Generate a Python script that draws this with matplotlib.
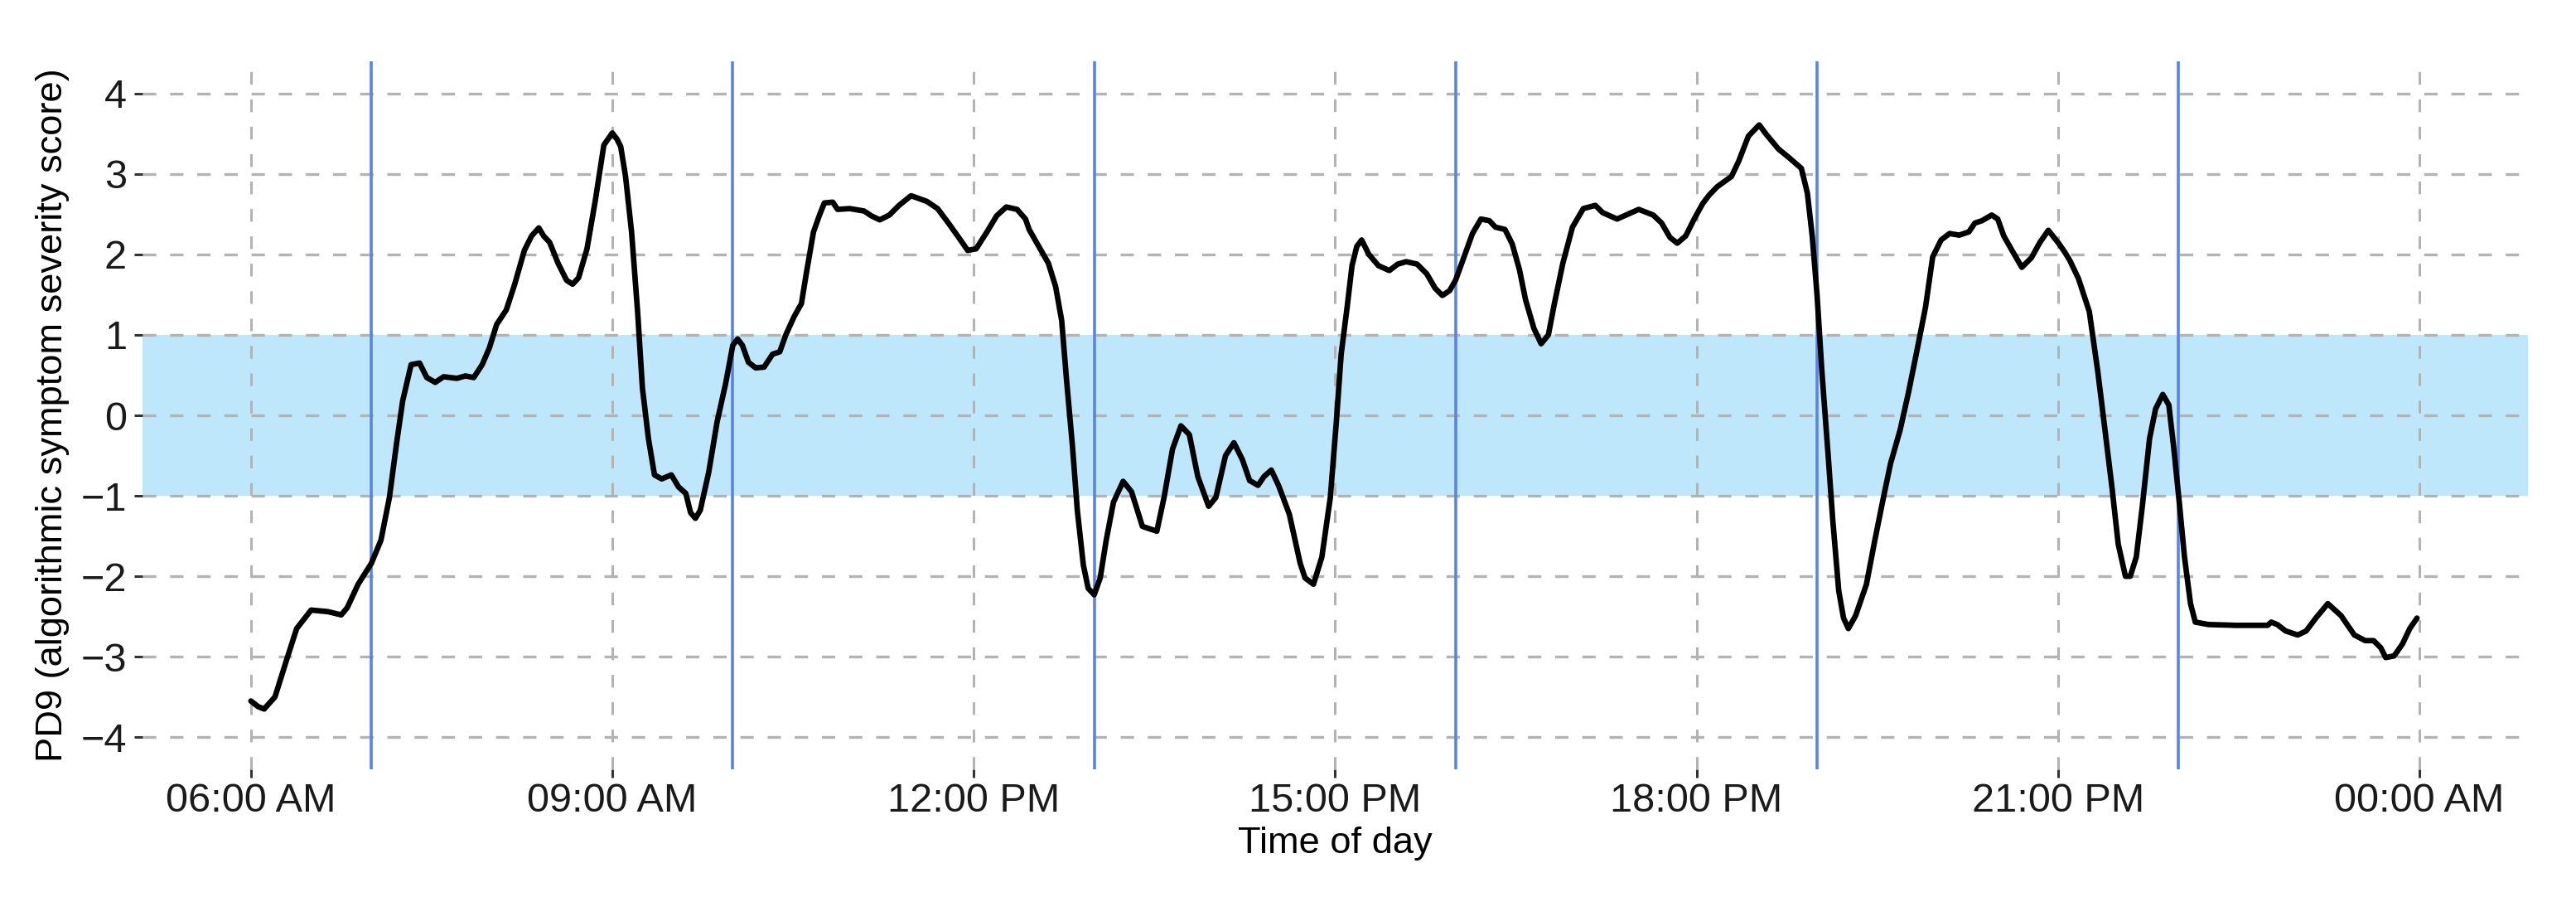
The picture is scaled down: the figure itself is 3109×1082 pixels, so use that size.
import matplotlib
matplotlib.use("Agg")
import matplotlib.pyplot as plt

plt.rcParams['font.family'] = ['Liberation Sans', 'DejaVu Sans']
plt.rcParams['lines.scale_dashes'] = False

# ---- data ----
hours = [6.00, 6.06, 6.11, 6.20, 6.29, 6.38, 6.50, 6.64, 6.75, 6.80, 6.89,
         7.00, 7.08, 7.15, 7.21, 7.26, 7.33, 7.40, 7.46, 7.53, 7.60, 7.71, 7.78, 7.85, 7.92, 7.98,
         8.04, 8.12, 8.19, 8.27, 8.33, 8.39, 8.43, 8.48, 8.55, 8.62, 8.67, 8.72, 8.79, 8.86, 8.93,
         9.00, 9.04, 9.07, 9.11, 9.16, 9.21, 9.25, 9.30, 9.35, 9.41, 9.49, 9.55, 9.61, 9.65, 9.69,
         9.73, 9.80, 9.87, 9.94,
         10.00, 10.04, 10.08, 10.13, 10.19, 10.26, 10.33, 10.39, 10.44, 10.51, 10.57, 10.61, 10.67,
         10.72, 10.76, 10.83, 10.87, 10.97,
         11.09, 11.15, 11.22, 11.30, 11.38, 11.48, 11.61, 11.70, 11.79, 11.89, 11.95,
         12.02, 12.11, 12.19, 12.27, 12.36, 12.43, 12.46, 12.54, 12.62, 12.68, 12.73, 12.77, 12.82,
         12.86, 12.91, 12.95,
         13.00, 13.05, 13.10, 13.16, 13.24, 13.31, 13.40, 13.52, 13.58, 13.65, 13.72, 13.79, 13.86, 13.95,
         14.01, 14.09, 14.16, 14.23, 14.29, 14.36, 14.41, 14.47, 14.53, 14.62, 14.71, 14.75, 14.82,
         14.89, 14.96,
         15.01, 15.05, 15.10, 15.14, 15.18, 15.22, 15.28, 15.36, 15.45, 15.52, 15.59, 15.68, 15.76,
         15.83, 15.89, 15.95,
         16.00, 16.07, 16.14, 16.21, 16.28, 16.33, 16.41, 16.47, 16.53, 16.58, 16.65, 16.71, 16.77,
         16.82, 16.89, 16.97,
         17.06, 17.16, 17.22, 17.34, 17.43, 17.52, 17.64, 17.71, 17.78, 17.84, 17.91, 17.98,
         18.05, 18.10, 18.17, 18.29, 18.35, 18.43, 18.52, 18.58, 18.68, 18.77, 18.87, 18.92, 18.96,
         19.00, 19.04, 19.09, 19.13, 19.18, 19.22, 19.26, 19.32, 19.41, 19.48, 19.55, 19.61, 19.69,
         19.76, 19.83, 19.90, 19.96,
         20.03, 20.10, 20.18, 20.26, 20.31, 20.37, 20.45, 20.50, 20.55, 20.63, 20.70, 20.78, 20.85, 20.92,
         21.01, 21.06, 21.10, 21.17, 21.26, 21.33, 21.39, 21.45, 21.50, 21.56, 21.60, 21.65, 21.70,
         21.76, 21.81, 21.87, 21.92, 21.96,
         22.01, 22.05, 22.10, 22.14, 22.25, 22.48, 22.74, 22.77, 22.82, 22.89, 22.99,
         23.06, 23.14, 23.24, 23.35, 23.46, 23.55, 23.62, 23.68, 23.72, 23.79, 23.86, 23.92, 23.98]

pd9 = [-3.55, -3.62, -3.65, -3.50, -3.07, -2.65, -2.42, -2.44, -2.48, -2.39, -2.10,
       -1.84, -1.55, -1.02, -0.34, 0.18, 0.63, 0.65, 0.47, 0.41, 0.48, 0.46, 0.49, 0.47, 0.63, 0.84,
       1.13, 1.31, 1.63, 2.05, 2.23, 2.33, 2.23, 2.15, 1.89, 1.68, 1.63, 1.71, 2.07, 2.68, 3.36,
       3.51, 3.43, 3.34, 2.97, 2.28, 1.29, 0.34, -0.29, -0.74, -0.79, -0.74, -0.89, -0.97, -1.21, -1.28,
       -1.18, -0.71, -0.08, 0.39,
       0.87, 0.95, 0.87, 0.66, 0.59, 0.60, 0.76, 0.79, 1.00, 1.23, 1.39, 1.76, 2.28,
       2.49, 2.64, 2.65, 2.56, 2.57,
       2.54, 2.48, 2.43, 2.49, 2.61, 2.73, 2.66, 2.57, 2.39, 2.18, 2.05,
       2.07, 2.28, 2.48, 2.59, 2.56, 2.44, 2.31, 2.10, 1.89, 1.60, 1.18, 0.45, -0.39,
       -1.18, -1.86, -2.15,
       -2.23, -2.02, -1.55, -1.08, -0.82, -0.95, -1.38, -1.44, -1.02, -0.42, -0.13, -0.24, -0.76, -1.13,
       -1.02, -0.50, -0.34, -0.55, -0.81, -0.87, -0.76, -0.68, -0.87, -1.23, -1.84, -2.02, -2.10,
       -1.76, -1.02,
       -0.08, 0.76, 1.35, 1.86, 2.10, 2.18, 2.00, 1.86, 1.80, 1.88, 1.91, 1.88, 1.76,
       1.58, 1.49, 1.55,
       1.68, 1.97, 2.26, 2.44, 2.42, 2.34, 2.31, 2.13, 1.81, 1.44, 1.08, 0.89, 1.00,
       1.39, 1.89, 2.34,
       2.57, 2.61, 2.52, 2.44, 2.50, 2.56, 2.49, 2.39, 2.21, 2.14, 2.23, 2.44,
       2.63, 2.73, 2.84, 2.97, 3.16, 3.47, 3.61, 3.49, 3.31, 3.20, 3.07, 2.76, 2.23,
       1.50, 0.55, -0.45, -1.29, -2.18, -2.52, -2.65, -2.49, -2.10, -1.55, -1.03, -0.60, -0.18,
       0.29, 0.81, 1.34, 1.97,
       2.18, 2.26, 2.24, 2.28, 2.39, 2.42, 2.49, 2.44, 2.23, 2.02, 1.84, 1.96, 2.15, 2.30,
       2.13, 2.02, 1.92, 1.70, 1.29, 0.55, -0.18, -0.92, -1.60, -2.00, -2.00, -1.76, -1.13,
       -0.29, 0.08, 0.26, 0.13, -0.39,
       -1.13, -1.76, -2.34, -2.57, -2.60, -2.61, -2.61, -2.57, -2.60, -2.68, -2.73,
       -2.68, -2.52, -2.34, -2.49, -2.73, -2.80, -2.80, -2.89, -3.01, -2.99, -2.84, -2.65, -2.52]

tick_hours = [6, 9, 12, 15, 18, 21, 24]
tick_labels = ["06:00 AM", "09:00 AM", "12:00 PM", "15:00 PM", "18:00 PM", "21:00 PM", "00:00 AM"]
event_hours = [7, 10, 13, 16, 19, 22]
y_ticks = [-4, -3, -2, -1, 0, 1, 2, 3, 4]
band_low, band_high = -1, 1

# ---- figure ----
fig = plt.figure(figsize=(15.545, 5.41), dpi=200)
ax = fig.add_axes([0.0553, 0.1423, 0.9260, 0.7893])

ax.set_xlim(5.1, 24.9)
ax.set_ylim(-4.4, 4.4)

ax.axhspan(band_low, band_high, color="#BFE7FC", zorder=0.5, lw=0)

for yv in y_ticks:
    ax.axhline(yv, color="#B3B3B3", lw=1.2, linestyle=(0, (5.8, 6.0)), zorder=1)
for xv in tick_hours:
    ax.axvline(xv, color="#B3B3B3", lw=1.1, linestyle=(0, (5.5, 6.4)), zorder=1)

for xv in event_hours:
    ax.axvline(xv, color="#5B84E0", lw=1.3, zorder=2)

ax.plot(hours, pd9, color="black", lw=2.4, zorder=3, solid_joinstyle="round",
        solid_capstyle="round")

ax.set_xticks(tick_hours)
ax.set_xticklabels(tick_labels)
ax.set_yticks(y_ticks)
ax.set_yticklabels([str(v).replace("-", "\u2212") for v in y_ticks])
ax.tick_params(axis="both", labelsize=17.5, length=3.6, width=1.1, color="#333333",
               labelcolor="#1a1a1a")
ax.tick_params(axis="y", pad=3.2)
ax.tick_params(axis="x", pad=2.0)

for s in ax.spines.values():
    s.set_visible(False)

ax.set_xlabel("Time of day", fontsize=16.3, labelpad=3)
ax.set_ylabel("PD9 (algorithmic symptom severity score)", fontsize=16.3, labelpad=5)

fig.savefig("out.png", dpi=200, facecolor="white")
